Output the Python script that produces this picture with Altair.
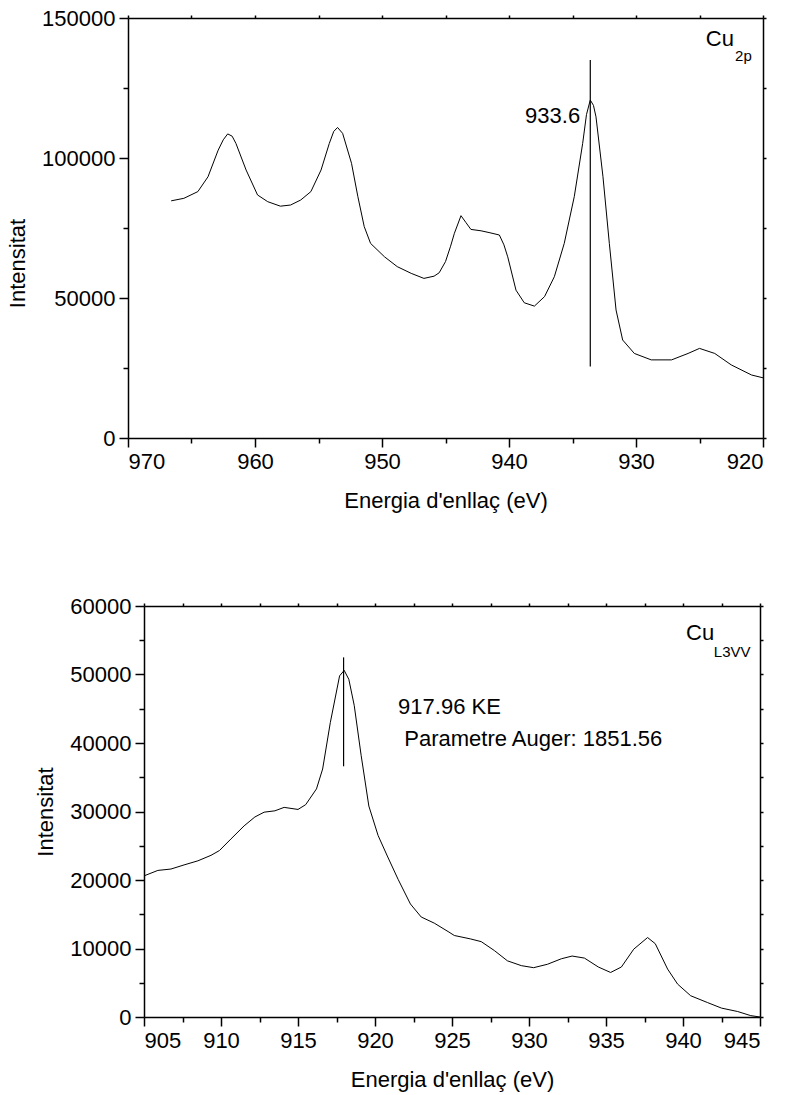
import altair as alt
import pandas as pd

FONT = "Liberation Sans"

# ---- Cu 2p spectrum (binding energy, eV) ----
cu2p_energy = [966.6, 965.6, 964.5, 963.7, 962.9, 962.5, 962.15, 961.8, 961.5, 960.7,
               959.8, 959.0, 958.0, 957.2, 956.4, 955.6, 954.8, 954.15, 953.8, 953.5,
               953.1, 952.4, 951.9, 951.4, 950.9, 949.8, 948.8, 947.7, 946.7, 945.9,
               945.5, 945.0, 944.6, 944.3, 943.78, 943.4, 943.0, 942.2, 941.5, 940.76,
               940.4, 940.1, 939.45, 938.8, 938.0, 937.2, 936.43, 935.65, 934.86, 934.2,
               933.9, 933.6, 933.35, 933.15, 932.6, 932.1, 931.57, 931.05, 930.13, 928.8,
               927.2, 925.9, 925.0, 923.8, 922.5, 920.9, 920.0]
cu2p_counts = [84700, 85600, 88000, 93300, 102800, 106500, 108600, 107800, 105200, 95700,
               86800, 84400, 82800, 83200, 85000, 88000, 95700, 105200, 109500, 110900,
               108800, 98100, 86200, 75500, 69500, 64700, 61200, 58800, 57000, 57800,
               59000, 63000, 68500, 73100, 79400, 77000, 74500, 74000, 73300, 72500,
               69000, 64700, 52800, 48300, 47100, 50500, 57600, 69500, 86200, 105200,
               115500, 120700, 118800, 114700, 93300, 69500, 45700, 35000, 30200, 27900,
               27900, 30200, 32000, 30200, 26100, 22500, 21500]

# ---- Cu L3VV Auger spectrum ----
auger_energy = [905.0, 905.9, 906.75, 907.6, 908.5, 909.35, 909.9, 910.65, 911.5, 912.2,
                912.8, 913.5, 914.1, 915.0, 915.5, 916.2, 916.6, 917.1, 917.7, 918.0,
                918.3, 918.65, 919.1, 919.6, 920.2, 920.8, 921.5, 922.3, 923.0, 923.85,
                924.8, 925.15, 926.2, 926.9, 927.75, 928.6, 929.5, 930.3, 931.2, 932.1,
                932.8, 933.6, 934.5, 935.3, 936.0, 936.8, 937.7, 938.2, 939.0, 939.65,
                940.5, 941.6, 942.5, 943.55, 944.4, 945.0]
auger_counts = [20600, 21400, 21600, 22200, 22800, 23600, 24300, 26000, 27900, 29200,
                29900, 30100, 30600, 30300, 31000, 33300, 36200, 43000, 49800, 50600,
                49300, 45500, 38200, 30800, 26500, 23500, 20100, 16500, 14600, 13700,
                12400, 11900, 11400, 11000, 9700, 8200, 7500, 7200, 7700, 8500,
                8900, 8600, 7300, 6500, 7300, 9900, 11600, 10700, 7000, 4800,
                3100, 2100, 1300, 800, 200, 0]

# ---- annotations ----
top_marker_x = [933.6]
top_marker_lo = [25500]
top_marker_hi = [135000]
top_texts = ["933.6"]
top_text_x = [934.4]
top_text_y = [115000]
top_sym_x = [924.5]
top_sym_y = [142500]
top_sub_x = [922.2]
top_sub_y = [136500]

bot_marker_x = [917.96]
bot_marker_lo = [36600]
bot_marker_hi = [52500]
bot_texts = ["917.96 KE", "Parametre Auger: 1851.56"]
bot_text_x = [921.5, 921.9]
bot_text_y = [45300, 40600]
bot_sym_x = [940.2]
bot_sym_y = [56000]
bot_sub_x = [942.0]
bot_sub_y = [53300]

LBL = 22
TTL = 22
SUB = 15

top_df = pd.DataFrame({"E": cu2p_energy, "I": cu2p_counts})
bot_df = pd.DataFrame({"E": auger_energy, "I": auger_counts})


def tick_size(step):
    return {"condition": {"test": f"datum.value % {step} === 0", "value": 9}, "value": 5}


def main_axis(orient, values, step, title, **kw):
    return alt.Axis(orient=orient, values=values, format="d",
                    labelExpr=f"datum.value % {step} === 0 ? datum.label : ''",
                    tickSize=tick_size(step), title=title, grid=False,
                    labelFontSize=LBL, titleFontSize=TTL, **kw)


def mirror_axis(orient, values):
    return alt.Axis(orient=orient, values=values, labels=False, tickSize=3,
                    title=None, grid=False)


def panel(df, xsc, ysc, xvals, xstep, yvals, ystep, xkw, ykw,
          marker, texts, sym, sub, width, height):
    x_main = main_axis("bottom", xvals, xstep, "Energia d'enllaç (eV)", **xkw)
    y_main = main_axis("left", yvals, ystep, "Intensitat", **ykw)
    line = alt.Chart(df).mark_line(color="black", strokeWidth=1).encode(
        x=alt.X("E:Q", scale=xsc, axis=x_main),
        y=alt.Y("I:Q", scale=ysc, axis=y_main),
    )
    mirror = alt.Chart(df).mark_point(opacity=0).encode(
        x=alt.X("E:Q", scale=xsc, axis=mirror_axis("top", xvals)),
        y=alt.Y("I:Q", scale=ysc, axis=mirror_axis("right", yvals)),
    )
    mdf = pd.DataFrame({"E": marker[0], "lo": marker[1], "hi": marker[2]})
    rule = alt.Chart(mdf).mark_rule(color="black", strokeWidth=1.2).encode(
        x=alt.X("E:Q", scale=xsc, axis=None),
        y=alt.Y("lo:Q", scale=ysc, axis=None),
        y2="hi:Q",
    )
    tdf = pd.DataFrame({"E": texts[1], "I": texts[2], "t": texts[0]})
    txt = alt.Chart(tdf).mark_text(align=texts[3], baseline="middle",
                                   fontSize=LBL, font=FONT, color="black").encode(
        x=alt.X("E:Q", scale=xsc, axis=None),
        y=alt.Y("I:Q", scale=ysc, axis=None),
        text="t:N",
    )
    sdf = pd.DataFrame({"E": sym[0], "I": sym[1], "t": ["Cu"]})
    symb = alt.Chart(sdf).mark_text(align="left", baseline="middle",
                                    fontSize=LBL, font=FONT, color="black").encode(
        x=alt.X("E:Q", scale=xsc, axis=None),
        y=alt.Y("I:Q", scale=ysc, axis=None),
        text="t:N",
    )
    bdf = pd.DataFrame({"E": sub[0], "I": sub[1], "t": [sub[2]]})
    subs = alt.Chart(bdf).mark_text(align="left", baseline="middle",
                                    fontSize=SUB, font=FONT, color="black").encode(
        x=alt.X("E:Q", scale=xsc, axis=None),
        y=alt.Y("I:Q", scale=ysc, axis=None),
        text="t:N",
    )
    return alt.layer(line, mirror, rule, txt, symb, subs).resolve_axis(
        x="independent", y="independent").properties(width=width, height=height)


top = panel(
    top_df,
    alt.Scale(domain=[920, 970], reverse=True, nice=False, zero=False),
    alt.Scale(domain=[0, 150000], nice=False, zero=False),
    [920 + 5 * i for i in range(11)], 10,
    [25000 * i for i in range(7)], 50000,
    dict(labelPadding=4, titlePadding=18),
    dict(labelPadding=4, titlePadding=12, titleY=245),
    (top_marker_x, top_marker_lo, top_marker_hi),
    (top_texts, top_text_x, top_text_y, "right"),
    (top_sym_x, top_sym_y),
    (top_sub_x, top_sub_y, "2p"),
    635, 420,
)

bottom = panel(
    bot_df,
    alt.Scale(domain=[905, 945], range=[16, 632], nice=False, zero=False),
    alt.Scale(domain=[0, 60000], nice=False, zero=False),
    [905 + 2.5 * i for i in range(17)], 5,
    [5000 * i for i in range(13)], 10000,
    dict(labelPadding=4, titlePadding=18),
    dict(labelPadding=4, titlePadding=12, offset=-16),
    (bot_marker_x, bot_marker_lo, bot_marker_hi),
    (bot_texts, bot_text_x, bot_text_y, "left"),
    (bot_sym_x, bot_sym_y),
    (bot_sub_x, bot_sub_y, "L3VV"),
    632, 411,
)

chart = alt.vconcat(top, bottom, spacing=84).properties(
    padding={"left": 6, "top": 7, "right": 5, "bottom": 5}
).configure_view(stroke=None).configure_axis(
    labelFont=FONT, titleFont=FONT, labelColor="black", titleColor="black",
    domainColor="black", tickColor="black", domainWidth=1.5, tickWidth=1.5,
    titleFontWeight="normal",
)

chart.save("out.html", embed_options={"renderer": "svg", "actions": False})
